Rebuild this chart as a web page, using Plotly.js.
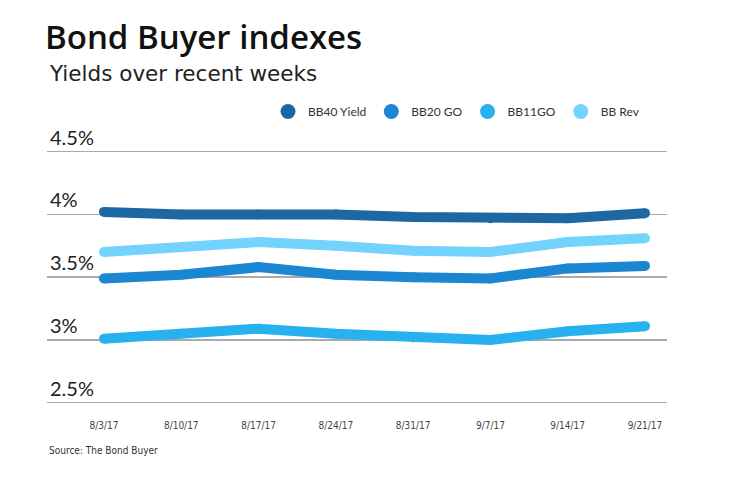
<!DOCTYPE html>
<html>
<head>
<meta charset="utf-8">
<script src="https://cdn.plot.ly/plotly-3.0.1.min.js"></script>
<style>html,body{margin:0;padding:0;background:#fff;}#chart{width:740px;height:482px;}</style>
</head>
<body>
<div id="chart"></div>
<script>
const dates = ["8/3/17","8/10/17","8/17/17","8/24/17","8/31/17","9/7/17","9/14/17","9/21/17"];
const bb40 = [4.02, 4.00, 4.00, 4.00, 3.98, 3.97, 3.97, 4.01];
const bb20 = [3.49, 3.52, 3.58, 3.52, 3.50, 3.49, 3.57, 3.59];
const bb11 = [3.01, 3.05, 3.09, 3.05, 3.02, 3.00, 3.07, 3.11];
const bbRev = [3.70, 3.74, 3.78, 3.75, 3.71, 3.70, 3.78, 3.81];
const yTicks = [2.5, 3, 3.5, 4, 4.5];
const yTickText = ["2.5%", "3%", "3.5%", "4%", "4.5%"];

const series = [
  {name: "BB40 Yield", y: bb40, color: "#1d67a2"},
  {name: "BB20 GO", y: bb20, color: "#1b86d1"},
  {name: "BB11GO", y: bb11, color: "#27b1ee"},
  {name: "BB Rev", y: bbRev, color: "#72d3fc"}
];

const traces = [];
series.forEach(s => {
  traces.push({
    x: dates, y: s.y, type: "scatter", mode: "lines+markers",
    line: {color: s.color, width: 10},
    marker: {color: s.color, size: 10},
    showlegend: false, hoverinfo: "skip"
  });
});
series.forEach(s => {
  traces.push({
    x: [null], y: [null], type: "scatter", mode: "markers", name: s.name,
    marker: {color: s.color, size: 15}, showlegend: true
  });
});

// plot area: y=4.5 at 152px, y=2.5 at 402.7px
const pxPerUnit = (402.7 - 152) / 2;
const yMin = 2.49, yMax = 4.72;
const plotTop = 152 - (yMax - 4.5) * pxPerUnit;
const plotBottom = 402.7 + (2.5 - yMin) * pxPerUnit;
const plotH = plotBottom - plotTop;
const py = px => (plotBottom - px) / plotH;

const layout = {
  width: 740, height: 482,
  margin: {l: 47, r: 73, t: plotTop, b: 482 - plotBottom},
  paper_bgcolor: "#fff", plot_bgcolor: "#fff",
  font: {family: "'Open Sans', Lato, sans-serif", color: "#222"},
  title: {
    text: "Bond Buyer indexes",
    font: {family: "'Open Sans', Lato, sans-serif", size: 33, weight: 600, color: "#111"},
    x: 45/740, xref: "container", xanchor: "left",
    y: 1 - 37/482, yref: "container", yanchor: "middle"
  },
  xaxis: {
    type: "category",
    range: [-0.737, 7.285],
    showgrid: false, zeroline: false, showline: false,
    ticks: "outside", ticklen: 12, tickcolor: "rgba(0,0,0,0)",
    tickfont: {family: "'Liberation Sans Narrow', 'DejaVu Sans Condensed', Lato, sans-serif", size: 10, color: "#444"},
    fixedrange: true
  },
  yaxis: {
    range: [yMin, yMax],
    tickvals: yTicks, ticktext: yTickText,
    ticklabelposition: "inside top",
    tickfont: {family: "Lato, 'Noto Sans', sans-serif", size: 20, color: "#222"},
    showgrid: true, gridcolor: "#aaaaaa", gridwidth: 1.5,
    zeroline: false, showline: false, ticks: "",
    fixedrange: true
  },
  legend: {
    orientation: "h",
    x: (268 - 47) / 620, xanchor: "left",
    y: py(112), yanchor: "middle",
    font: {family: "Lato, 'Noto Sans', sans-serif", size: 12, color: "#333"},
    bgcolor: "rgba(0,0,0,0)"
  },
  annotations: [
    {
      text: "Yields over recent weeks", showarrow: false,
      xref: "paper", yref: "paper", x: 0, xanchor: "left",
      y: py(74), yanchor: "middle",
      font: {family: "'DejaVu Sans', 'Open Sans', sans-serif", size: 21.5, color: "#222"}
    },
    {
      text: "Source: The Bond Buyer", showarrow: false,
      xref: "paper", yref: "paper", x: 0, xanchor: "left",
      y: py(450), yanchor: "middle",
      font: {family: "'Liberation Sans Narrow', 'DejaVu Sans Condensed', Lato, sans-serif", size: 10, color: "#333"}
    }
  ]
};

Plotly.newPlot("chart", traces, layout, {displayModeBar: false, staticPlot: true});
</script>
</body>
</html>
